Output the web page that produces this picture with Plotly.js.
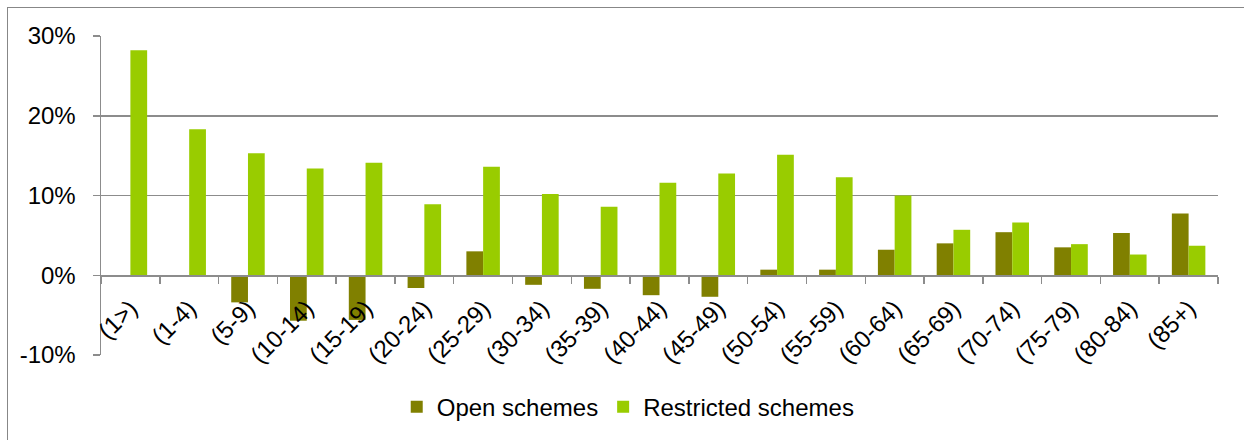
<!DOCTYPE html>
<html>
<head>
<meta charset="utf-8">
<script src="https://cdn.plot.ly/plotly-3.0.1.min.js"></script>
<style>
html,body{margin:0;padding:0;background:#fff;overflow:hidden;}
#chart{width:1244px;height:440px;}
#frame{position:absolute;left:7px;top:7px;width:1400px;height:600px;border-left:1px solid #878787;border-top:1px solid #878787;pointer-events:none;}
</style>
</head>
<body>
<div id="chart"></div>
<div id="frame"></div>
<script>
const categories = ["(1>)","(1-4)","(5-9)","(10-14)","(15-19)","(20-24)","(25-29)","(30-34)","(35-39)","(40-44)","(45-49)","(50-54)","(55-59)","(60-64)","(65-69)","(70-74)","(75-79)","(80-84)","(85+)"];
const openSchemes = [0, -0.1, -3.4, -5.7, -5.6, -1.6, 3.0, -1.2, -1.7, -2.5, -2.7, 0.7, 0.7, 3.2, 4.0, 5.4, 3.5, 5.3, 7.75];
const restrictedSchemes = [28.2, 18.3, 15.3, 13.4, 14.1, 8.9, 13.6, 10.2, 8.6, 11.6, 12.75, 15.1, 12.3, 10.0, 5.7, 6.6, 3.9, 2.6, 3.7];
const yTickVals = [-10, 0, 10, 20, 30];
const yTickText = ["-10%", "0%", "10%", "20%", "30%"];

const FONT = "Liberation Sans, Arial, sans-serif";

const traces = [
  {type:"bar", name:"Open schemes", x:categories, y:openSchemes,
   marker:{color:"#808000", line:{width:0}}},
  {type:"bar", name:"Restricted schemes", x:categories, y:restrictedSchemes,
   marker:{color:"#99cc00", line:{width:0}}}
];

const layout = {
  width:1244, height:440,
  margin:{l:101, r:26, t:36, b:84, pad:0},
  paper_bgcolor:"#fff", plot_bgcolor:"#fff",
  barmode:"group", bargap:0.43, bargroupgap:0,
  font:{family:FONT, color:"#000"},
  showlegend:true,
  legend:{orientation:"h", x:0.472, xanchor:"center", y:-0.16, yanchor:"middle",
          font:{family:FONT, size:24, color:"#000"}, itemwidth:30, tracegroupgap:0},
  xaxis:{type:"category", anchor:"free", position:0.25,
         showline:true, linecolor:"#8c8c8c", linewidth:1.5,
         ticks:"outside", tickson:"boundaries", ticklen:7, tickcolor:"#8c8c8c", tickwidth:1.5,
         ticklabelstandoff:8,
         tickangle:-45, tickfont:{family:FONT, size:24, color:"#000"},
         showgrid:false, zeroline:false, fixedrange:true},
  yaxis:{range:[-10,30], tickmode:"array", tickvals:yTickVals, ticktext:yTickText,
         showline:true, linecolor:"#8c8c8c", linewidth:1.5,
         ticks:"outside", ticklen:7, tickcolor:"#8c8c8c", tickwidth:1.5,
         ticklabelstandoff:12,
         tickfont:{family:FONT, size:24, color:"#000"},
         showgrid:true, gridcolor:"#8c8c8c", gridwidth:1.5,
         zeroline:false, fixedrange:true}
};

Plotly.newPlot("chart", traces, layout, {displayModeBar:false, staticPlot:true});
</script>
</body>
</html>
